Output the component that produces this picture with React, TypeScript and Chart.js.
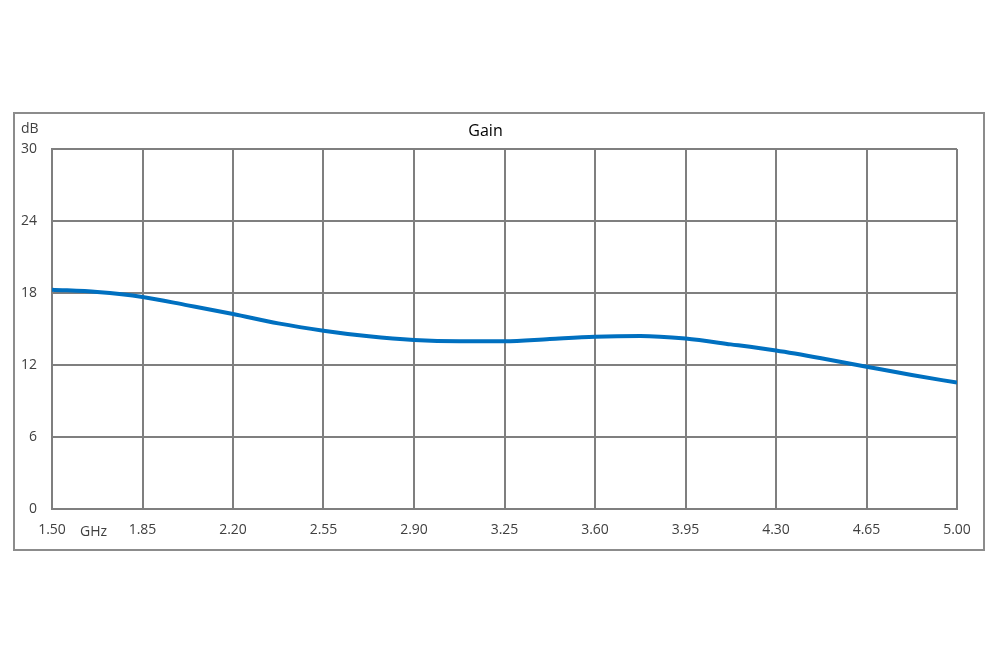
import { useEffect, useRef } from 'react';
import Chart from 'chart.js/auto';

// frequency (GHz) and gain (dB)
const FREQ = [
  1.5, 1.675, 1.85, 2.025, 2.2, 2.375, 2.55, 2.725, 2.9, 3.075, 3.25,
  3.425, 3.6, 3.775, 3.95, 4.125, 4.3, 4.475, 4.65, 4.825, 5.0
];
const GAIN = [
  18.28, 18.08, 17.67, 16.97, 16.25, 15.47, 14.86, 14.39, 14.08, 13.97, 13.97,
  14.17, 14.36, 14.42, 14.2, 13.72, 13.2, 12.56, 11.86, 11.17, 10.53
];
const X_TICKS = [1.5, 1.85, 2.2, 2.55, 2.9, 3.25, 3.6, 3.95, 4.3, 4.65, 5.0];
const Y_TICKS = [0, 6, 12, 18, 24, 30];

const GRID = '#7f7f7f';
const TEXT = '#404040';
const FONT = '"Open Sans", "DejaVu Sans", sans-serif';

export default function App() {
  const canvasRef = useRef<HTMLCanvasElement | null>(null);

  useEffect(() => {
    const canvas = canvasRef.current;
    if (!canvas) return;

    const chart = new Chart(canvas, {
      type: 'line',
      data: {
        datasets: [
          {
            label: 'Gain',
            data: FREQ.map((f, i) => ({ x: f, y: GAIN[i] })),
            borderColor: '#0070c0',
            borderWidth: 4,
            pointRadius: 0,
            cubicInterpolationMode: 'monotone',
            fill: false
          }
        ]
      },
      options: {
        responsive: false,
        animation: false,
        layout: { padding: { left: 14, right: 43, top: 113, bottom: 128 } },
        plugins: {
          legend: { display: false },
          tooltip: { enabled: false },
          title: {
            display: true,
            text: 'Gain',
            color: '#000',
            font: { family: FONT, size: 16, lineHeight: '19px', weight: 'normal' },
            padding: { top: 9, bottom: 8 }
          }
        },
        scales: {
          x: {
            type: 'linear',
            min: X_TICKS[0],
            max: X_TICKS[X_TICKS.length - 1],
            afterBuildTicks: scale => {
              scale.ticks = X_TICKS.map(v => ({ value: v }));
            },
            afterFit: scale => {
              scale.height = 30;
            },
            grid: { color: GRID, lineWidth: 2, drawTicks: false },
            border: { display: true, color: GRID, width: 2 },
            ticks: {
              color: TEXT,
              font: { family: FONT, size: 14 },
              padding: 13,
              maxRotation: 0,
              autoSkip: false,
              callback: v => Number(v).toFixed(2)
            }
          },
          y: {
            min: Y_TICKS[0],
            max: Y_TICKS[Y_TICKS.length - 1],
            afterBuildTicks: scale => {
              scale.ticks = Y_TICKS.map(v => ({ value: v }));
            },
            afterFit: scale => {
              scale.width = 38;
            },
            grid: { color: GRID, lineWidth: 2, drawTicks: false },
            border: { display: true, color: GRID, width: 2 },
            ticks: {
              color: TEXT,
              font: { family: FONT, size: 14 },
              padding: 15
            }
          }
        }
      }
    });

    return () => chart.destroy();
  }, []);

  const label = { position: 'absolute' as const, color: TEXT, fontFamily: FONT, fontSize: 14, lineHeight: '16px' };

  return (
    <div style={{ position: 'absolute', left: 0, top: 0, width: 1000, height: 667, background: '#fff' }}>
      <div
        style={{
          position: 'absolute',
          left: 13,
          top: 112,
          width: 968,
          height: 435,
          border: '2px solid #8c8c8c'
        }}
      />
      <canvas ref={canvasRef} width={1000} height={667} style={{ position: 'absolute', left: 0, top: 0 }} />
      <div style={{ ...label, left: 21, top: 120 }}>dB</div>
      <div style={{ ...label, left: 80, top: 523 }}>GHz</div>
    </div>
  );
}
